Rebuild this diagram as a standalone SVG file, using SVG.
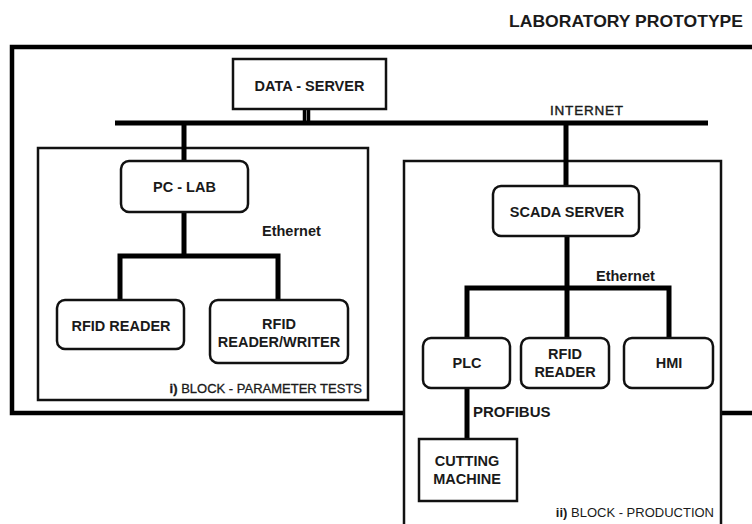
<svg xmlns="http://www.w3.org/2000/svg" width="752" height="524" viewBox="0 0 752 524">
<style>
text{font-family:"Liberation Sans",Arial,sans-serif;fill:#1a1a1a}
.b{font-weight:bold}
.n{font-size:14.5px;font-weight:bold;text-anchor:middle}
.box{fill:#fff;stroke:#111;stroke-width:2.5}
.blk{fill:#fff;stroke:#111;stroke-width:2.5}
.w{stroke:#000;stroke-width:5;fill:none;stroke-linecap:butt}
</style>
<rect width="752" height="524" fill="#fff"/>
<text id="title" x="509" y="27" class="b" font-size="16.5" textLength="234" lengthAdjust="spacingAndGlyphs">LABORATORY PROTOTYPE</text>
<g id="outer"><rect x="12" y="47" width="760" height="366" fill="none" stroke="#000" stroke-width="4.5"/></g>
<g id="block-i"><rect class="blk" x="38" y="148" width="330" height="252"/>
<text x="362" y="393" font-size="13" text-anchor="end" stroke="#1a1a1a" stroke-width="0.3"><tspan class="b">i)</tspan> BLOCK - PARAMETER TESTS</text></g>
<g id="block-ii"><rect class="blk" x="404" y="161" width="317" height="380"/>
<text x="714" y="517" font-size="13" text-anchor="end"><tspan class="b">ii)</tspan> BLOCK - PRODUCTION</text></g>
<g id="connectors">
<path class="w" d="M115 123H708"/>
<path stroke="#000" stroke-width="3.5" d="M304.5 109V121M308.5 109V121"/>
<path class="w" d="M184 123V161M566 123V186"/>
<path class="w" d="M184 212V256M120 300V256H278V300"/>
<path class="w" d="M567 236V338M467 338V288H669V338"/>
<path class="w" d="M467 388V439"/>
</g>
<g id="labels">
<text x="550" y="115" font-size="13.5" letter-spacing="0.8" stroke="#1a1a1a" stroke-width="0.4">INTERNET</text>
<text x="262" y="236" class="b" font-size="14.5">Ethernet</text>
<text x="596" y="281" class="b" font-size="14.5">Ethernet</text>
<text x="473" y="417" class="b" font-size="15">PROFIBUS</text>
</g>
<g id="data-server"><rect class="box" x="233" y="59" width="153" height="50"/><text class="n" x="309.5" y="91">DATA - SERVER</text></g>
<g id="pc-lab"><rect class="box" x="121" y="161" width="127" height="51" rx="8"/><text class="n" x="184.5" y="192">PC - LAB</text></g>
<g id="rfid-reader-1"><rect class="box" x="57" y="300" width="127" height="49" rx="8"/><text class="n" x="121" y="331">RFID READER</text></g>
<g id="rfid-rw"><rect class="box" x="210" y="300" width="138" height="63" rx="8"/><text class="n" x="279" y="329">RFID</text><text class="n" x="279" y="347">READER/WRITER</text></g>
<g id="scada"><rect class="box" x="493" y="186" width="146" height="50" rx="8"/><text class="n" x="567" y="217">SCADA SERVER</text></g>
<g id="plc"><rect class="box" x="423" y="338" width="87" height="50" rx="8"/><text class="n" x="467" y="368">PLC</text></g>
<g id="rfid-reader-2"><rect class="box" x="521" y="338" width="88" height="50" rx="8"/><text class="n" x="565" y="359">RFID</text><text class="n" x="565" y="377">READER</text></g>
<g id="hmi"><rect class="box" x="624" y="338" width="89" height="50" rx="8"/><text class="n" x="669" y="368">HMI</text></g>
<g id="cutting"><rect class="box" x="419" y="439" width="98" height="62"/><text class="n" x="467" y="466">CUTTING</text><text class="n" x="467" y="484">MACHINE</text></g>
</svg>
